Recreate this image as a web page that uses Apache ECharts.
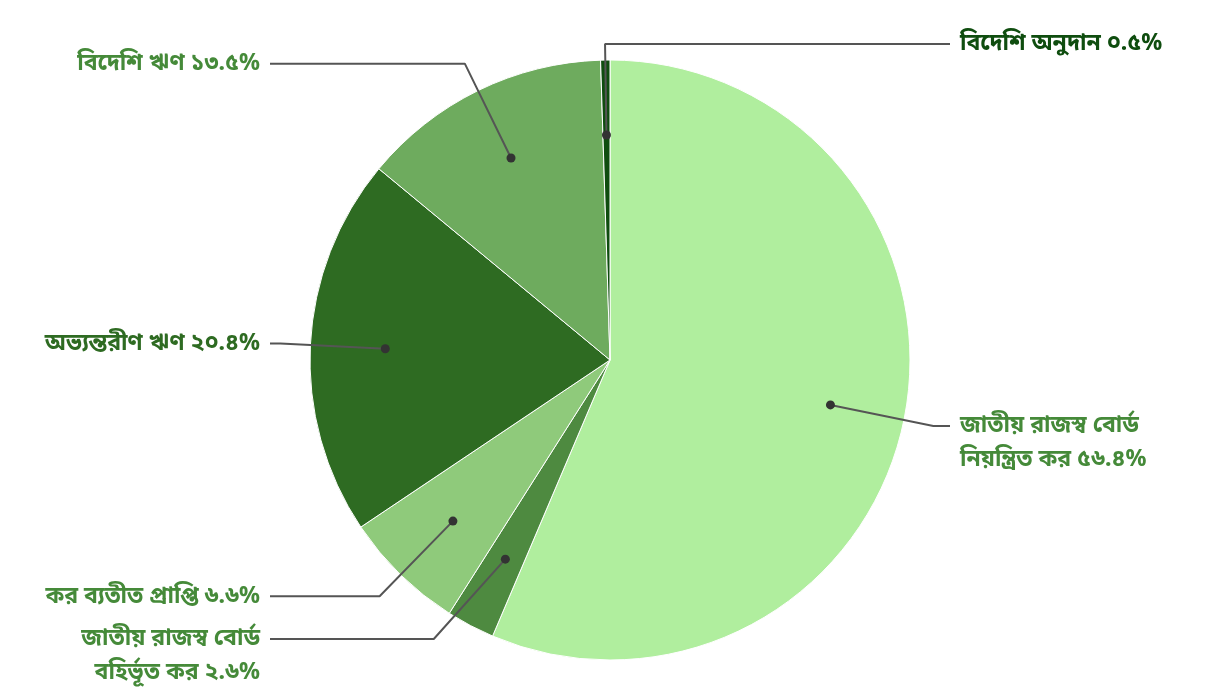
<!DOCTYPE html>
<html>
<head>
<meta charset="utf-8">
<script src="https://cdn.jsdelivr.net/npm/echarts@6/dist/echarts.min.js"></script>
<style>
  html, body { margin: 0; padding: 0; background: #fff; }
  #chart { width: 1220px; height: 700px; }
</style>
</head>
<body>
<div id="chart"></div>
<script>
// ---- data ----
const categories = [
  'জাতীয় রাজস্ব বোর্ড\nনিয়ন্ত্রিত কর',
  'জাতীয় রাজস্ব বোর্ড\nবহির্ভূত কর',
  'কর ব্যতীত প্রাপ্তি',
  'অভ্যন্তরীণ ঋণ',
  'বিদেশি ঋণ',
  'বিদেশি অনুদান'
];
const values = [56.4, 2.6, 6.6, 20.4, 13.5, 0.5];
const sliceColors = ['#b0ee9e', '#4e8a40', '#8fca7b', '#2e6b22', '#6eab5e', '#0f4d0f'];
const labelColors = ['#458a39', '#458a39', '#458a39', '#2e6b22', '#458a39', '#0f4d0f'];

// ---- layout constants ----
const CX = 610, CY = 360, R = 300;
const POLAR_SCALE = 1.6;     // helper polar system extends beyond the pie
const DOT_R = 0.75;          // dots at 75% of radius
const BEND = 30;             // radial overshoot of leader line
const END = 40;              // horizontal end distance beyond radius
const TOP_LIMIT = 44;
const BOTTOM_LIMIT = 690;
const LINE_H = 34;

const bnDigits = ['০','১','২','৩','৪','৫','৬','৭','৮','৯'];
function toBn(v) {
  return v.toFixed(1).replace(/[0-9]/g, d => bnDigits[+d]);
}

const total = values.reduce((a, b) => a + b, 0);
const mids = [];
let acc = 0;
values.forEach(v => { mids.push((acc + v / 2) / total * 100); acc += v; });

function geom(i) {
  const ang = mids[i] / 100 * 2 * Math.PI; // clockwise from top
  const sx = Math.sin(ang), sy = -Math.cos(ang);
  const lines = categories[i].split('\n').length;
  let br = R + BEND;
  let bx = CX + sx * br, by = CY + sy * br;
  if (by < TOP_LIMIT && sy < 0) {
    br = (CY - TOP_LIMIT) / -sy;
    bx = CX + sx * br; by = CY + sy * br;
  }
  const bottom = by - LINE_H / 2 + lines * LINE_H;
  if (bottom > BOTTOM_LIMIT) {
    by = BOTTOM_LIMIT - lines * LINE_H + LINE_H / 2;
    const rr = R + BEND;
    const dy = by - CY;
    bx = CX + Math.sign(sx) * Math.sqrt(Math.max(0, rr * rr - dy * dy));
  }
  const right = sx > -0.05;
  const ex = right ? CX + R + END : CX - R - END;
  return {
    p0: [CX + sx * R * DOT_R, CY + sy * R * DOT_R],
    p1: [bx, by],
    p2: [ex, by],
    right
  };
}

// pixel -> polar value [radius (fraction of R), angle (0..100 clockwise from top)]
function toPolar(p) {
  const dx = p[0] - CX, dy = p[1] - CY;
  let a = Math.atan2(dx, -dy);
  if (a < 0) a += 2 * Math.PI;
  return [Math.sqrt(dx * dx + dy * dy) / R, a / (2 * Math.PI) * 100];
}

const leaderData = [];
categories.forEach((c, i) => {
  const g = geom(i);
  leaderData.push(toPolar(g.p0), toPolar(g.p1), toPolar(g.p2));
  if (i < categories.length - 1) leaderData.push('-');
});

const chart = echarts.init(document.getElementById('chart'), null, { renderer: 'canvas' });

const hiddenAxis = {
  axisLine: { show: false }, axisTick: { show: false }, axisLabel: { show: false }, splitLine: { show: false }
};

const option = {
  backgroundColor: '#ffffff',
  animation: false,
  polar: { center: [CX, CY], radius: R * POLAR_SCALE },
  angleAxis: Object.assign({ type: 'value', min: 0, max: 100, startAngle: 90, clockwise: true }, hiddenAxis),
  radiusAxis: Object.assign({ type: 'value', min: 0, max: POLAR_SCALE }, hiddenAxis),
  series: [
    {
      type: 'pie',
      center: [CX, CY],
      radius: R,
      startAngle: 90,
      clockwise: true,
      avoidLabelOverlap: false,
      itemStyle: { borderColor: '#ffffff', borderWidth: 1 },
      data: categories.map((c, i) => ({
        name: c,
        value: values[i],
        itemStyle: { color: sliceColors[i] },
        label: { color: labelColors[i] }
      })),
      label: {
        show: true,
        position: 'outside',
        formatter: p => p.name + ' ' + toBn(p.value) + '%',
        fontFamily: '"Noto Sans Bengali", "Noto Sans", sans-serif',
        fontWeight: 'bold',
        fontSize: 23,
        lineHeight: LINE_H
      },
      labelLine: { show: false },
      labelLayout: function (params) {
        const g = geom(params.dataIndex);
        return {
          x: g.right ? g.p2[0] + 10 : g.p2[0] - 10,
          y: g.p1[1] - LINE_H / 2 + 2,
          align: g.right ? 'left' : 'right',
          verticalAlign: 'top'
        };
      },
      emphasis: { disabled: true },
      z: 2
    },
    {
      type: 'line',
      coordinateSystem: 'polar',
      data: leaderData,
      symbol: 'none',
      clip: false,
      connectNulls: false,
      smooth: false,
      lineStyle: { color: '#555555', width: 2 },
      silent: true,
      z: 4
    },
    {
      type: 'scatter',
      coordinateSystem: 'polar',
      symbol: 'circle',
      symbolSize: 9,
      itemStyle: { color: '#333333', opacity: 1 },
      data: mids.map(m => [DOT_R, m]),
      silent: true,
      z: 5
    }
  ]
};
chart.setOption(option);
</script>
</body>
</html>
